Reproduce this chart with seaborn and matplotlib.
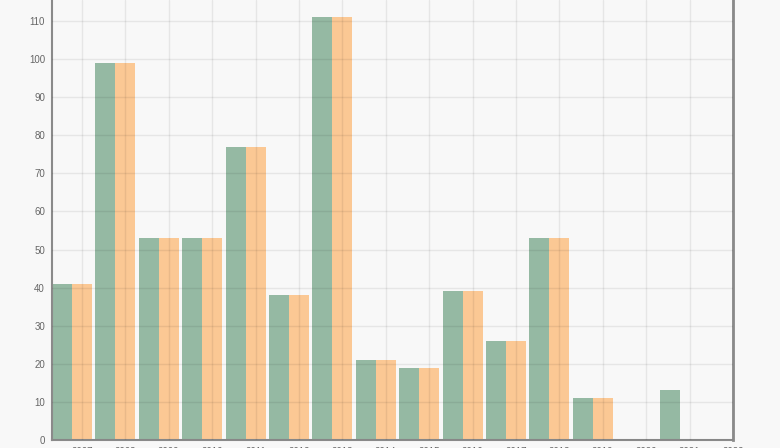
import pandas as pd
import matplotlib
matplotlib.use("Agg")
import matplotlib.pyplot as plt
import seaborn as sns

# data
years = [str(y) for y in range(2007, 2023)]
series_a = [41, 99, 53, 53, 77, 38, 111, 21, 19, 39, 26, 53, 11, 0, 13, 0]
series_b = [41, 99, 53, 53, 77, 38, 111, 21, 19, 39, 26, 53, 11, 0, 0, 0]
y_ticks = list(range(0, 111, 10))

df = pd.DataFrame({
    'year': years * 2,
    'count': series_a + series_b,
    'series': ['a'] * len(years) + ['b'] * len(years),
})

sns.set_style("whitegrid")
plt.rcParams['font.family'] = ['Liberation Sans', 'DejaVu Sans']

fig = plt.figure(figsize=(7.8, 4.48), dpi=100)
fig.patch.set_facecolor('#f8f8f8')
ax = fig.add_axes([52 / 780, 8 / 448, 681 / 780, 440 / 448])
ax.set_facecolor('#f8f8f8')

sns.barplot(
    data=df, x='year', y='count', hue='series',
    palette={'a': '#95b9a3', 'b': '#fbc894'}, saturation=1,
    width=0.92, legend=False, ax=ax,
    linewidth=0, zorder=2,
)

# ticks sit a bit right of each group's centre, as in the original
ax.set_xticks([i + 0.23 for i in range(len(years))])
ax.set_xticklabels(years)
ax.set_xlim(-0.46, 15.23)
ax.set_ylim(0, 115.5)
ax.set_yticks(y_ticks)

# grid drawn over the bars, faint so it shows through them
ax.set_axisbelow(False)
ax.grid(True, color='black', alpha=0.07, linewidth=1, zorder=3)
ax.tick_params(length=0, labelsize=7, colors='#666666')
ax.tick_params(axis='y', pad=5)
ax.tick_params(axis='x', pad=5)
ax.set_xlabel('')
ax.set_ylabel('')

for side in ['left', 'bottom']:
    ax.spines[side].set_visible(True)
    ax.spines[side].set_color('#8a8a8a')
    ax.spines[side].set_linewidth(1.5)
ax.spines['right'].set_visible(True)
ax.spines['right'].set_color('#8a8a8a')
ax.spines['right'].set_linewidth(2)
ax.spines['top'].set_visible(False)

fig.savefig('out.png', dpi=100, facecolor=fig.get_facecolor())
